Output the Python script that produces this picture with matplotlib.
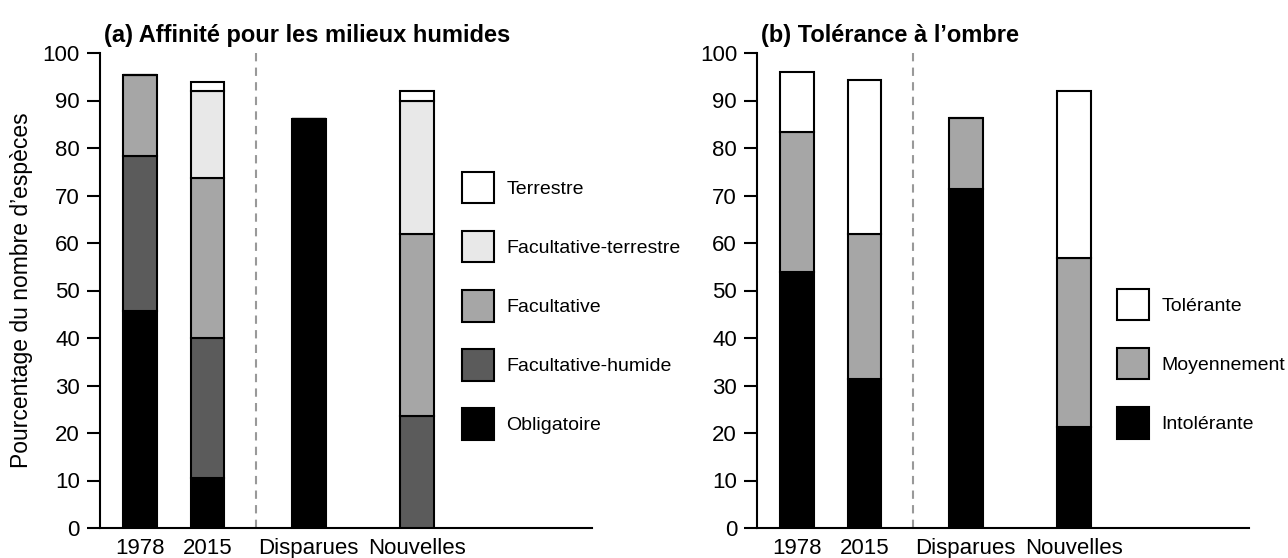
import matplotlib
matplotlib.use("Agg")
import matplotlib.pyplot as plt

plt.rcParams["font.family"] = ["Liberation Sans", "DejaVu Sans"]

# --- data -------------------------------------------------------------
categories = ["1978", "2015", "Disparues", "Nouvelles"]

# (a) wetland affinity, % of species
obligatoire = [45.7, 10.6, 86.2, 0.0]
fac_humide = [32.7, 29.5, 0.0, 23.5]
facultative = [16.9, 33.5, 0.0, 38.5]
fac_terrestre = [0.0, 18.4, 0.0, 27.9]
terrestre = [0.0, 1.9, 0.0, 2.1]

# (b) shade tolerance, % of species
intolerante = [54.0, 31.3, 71.4, 21.2]
moyennement = [29.4, 30.7, 15.0, 35.6]
tolerante = [12.6, 32.3, 0.0, 35.2]

# --- layout -------------------------------------------------------------
X_POS = [0, 1, 2.51, 4.12]
SEP_X = 1.72
BAR_W = 0.5
XLIM = (-0.6, 6.73)

W, H = 1288, 558
fig = plt.figure(figsize=(W / 100, H / 100), dpi=100)
ax_a = fig.add_axes([100 / W, 1 - 528 / H, 492 / W, 475 / H])
ax_b = fig.add_axes([757 / W, 1 - 528 / H, 492 / W, 475 / H])


def stack(ax, series, labels, colors):
    bottom = [0.0] * len(categories)
    handles = []
    for vals, lab, col in zip(series, labels, colors):
        bars = ax.bar(X_POS, vals, BAR_W, bottom=bottom, color=col,
                      edgecolor="black", linewidth=1.5, label=lab, zorder=3)
        handles.append(bars)
        bottom = [b + v for b, v in zip(bottom, vals)]
    return handles


def style(ax, title):
    ax.set_xlim(*XLIM)
    ax.set_ylim(0, 100)
    ax.set_yticks(range(0, 101, 10))
    ax.set_xticks(X_POS)
    ax.set_xticklabels(categories)
    ax.tick_params(axis="y", direction="out", length=9.4, width=1.5,
                   labelsize=16, pad=5)
    ax.tick_params(axis="x", length=0, labelsize=16, pad=7)
    for s in ("top", "right"):
        ax.spines[s].set_visible(False)
    for s in ("left", "bottom"):
        ax.spines[s].set_linewidth(1.5)
    ax.axvline(SEP_X, ymin=0, ymax=1, color="#999999", linestyle=(0, (4, 3)),
               linewidth=1.5, zorder=1)
    ax.set_title(title, loc="left", fontsize=17, fontweight="bold", pad=8,
                 x=0.008)


h_a = stack(ax_a,
            [obligatoire, fac_humide, facultative, fac_terrestre, terrestre],
            ["Obligatoire", "Facultative-humide", "Facultative",
             "Facultative-terrestre", "Terrestre"],
            ["black", "#5b5b5b", "#a6a6a6", "#e8e8e8", "white"])
style(ax_a, "(a) Affinité pour les milieux humides")
ax_a.set_ylabel("Pourcentage du nombre d’espèces", fontsize=16.5, labelpad=7)

h_b = stack(ax_b, [intolerante, moyennement, tolerante],
            ["Intolérante", "Moyennement", "Tolérante"],
            ["black", "#a6a6a6", "white"])
style(ax_b, "(b) Tolérance à l’ombre")

leg_kw = dict(frameon=False, fontsize=14, handlelength=1.65, handleheight=2.11,
              labelspacing=1.42, handletextpad=0.62, borderpad=0,
              borderaxespad=0, loc="upper left", bbox_transform=fig.transFigure)
fig.legend(h_a[::-1], [h.get_label() for h in h_a[::-1]],
           bbox_to_anchor=(462 / W, 1 - 172 / H), **leg_kw)
fig.legend(h_b[::-1], [h.get_label() for h in h_b[::-1]],
           bbox_to_anchor=(1117 / W, 1 - 289 / H), **leg_kw)

fig.savefig("out.png", dpi=100)
